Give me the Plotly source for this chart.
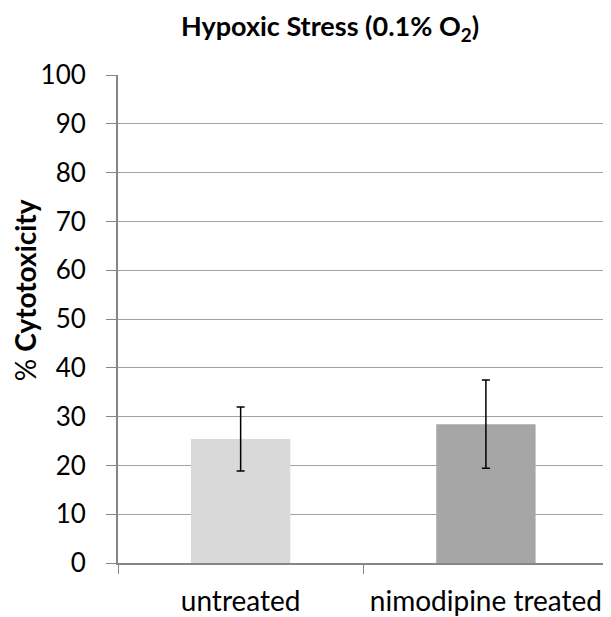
import plotly.graph_objects as go

categories = ["untreated", "nimodipine treated"]
values = [25.4, 28.45]
errors = [6.55, 9.05]
colors = ["#d9d9d9", "#a6a6a6"]
y_ticks = list(range(0, 101, 10))

FONT = "Lato"
# browser body margin (8px) shifts the figure; size it to fit the window
W, H = 603, 609
L, T, B = 110, 66.5, 54
PW, PH = W - L, H - T - B

fig = go.Figure()
fig.add_trace(go.Bar(
    x=categories, y=values, width=0.405,
    marker=dict(color=colors, line=dict(width=0)),
    error_y=dict(type="data", array=errors, visible=True,
                 color="black", thickness=1.5, width=4),
))

fig.update_layout(
    width=W, height=H,
    margin=dict(l=L, r=0, t=T, b=B, autoexpand=False),
    plot_bgcolor="white", paper_bgcolor="white",
    showlegend=False,
    font=dict(family=FONT, color="black"),
    title=dict(text="<b>Hypoxic Stress (0.1% O<sub>2</sub>)</b>",
               x=322/W, xanchor="center", y=1-19/H, yanchor="middle",
               font=dict(size=27, family=FONT)),
    annotations=[dict(text="% <b>Cytotoxicity</b>", textangle=-90,
                      xref="paper", yref="paper",
                      x=(17-L)/PW, xanchor="center",
                      y=(T+PH-282)/PH, yanchor="middle",
                      showarrow=False, font=dict(size=28, family=FONT))],
)
fig.update_yaxes(
    range=[0, 100], tickvals=y_ticks,
    showgrid=True, gridcolor="#a0a0a0", gridwidth=1.3,
    showline=True, linecolor="#868686", linewidth=2,
    ticks="outside", ticklen=10, tickcolor="#868686", tickwidth=1.3,
    tickfont=dict(size=26, family=FONT), ticklabelstandoff=15,
    zeroline=False,
)
fig.update_xaxes(
    range=[-0.5, 1.51],
    showline=True, linecolor="#868686", linewidth=2,
    ticks="outside", ticklen=9, tickcolor="#868686", tickwidth=1.3,
    tickson="boundaries", tickangle=0,
    tickfont=dict(size=28, family=FONT), ticklabelstandoff=12,
)

fig.write_html("out.html")
